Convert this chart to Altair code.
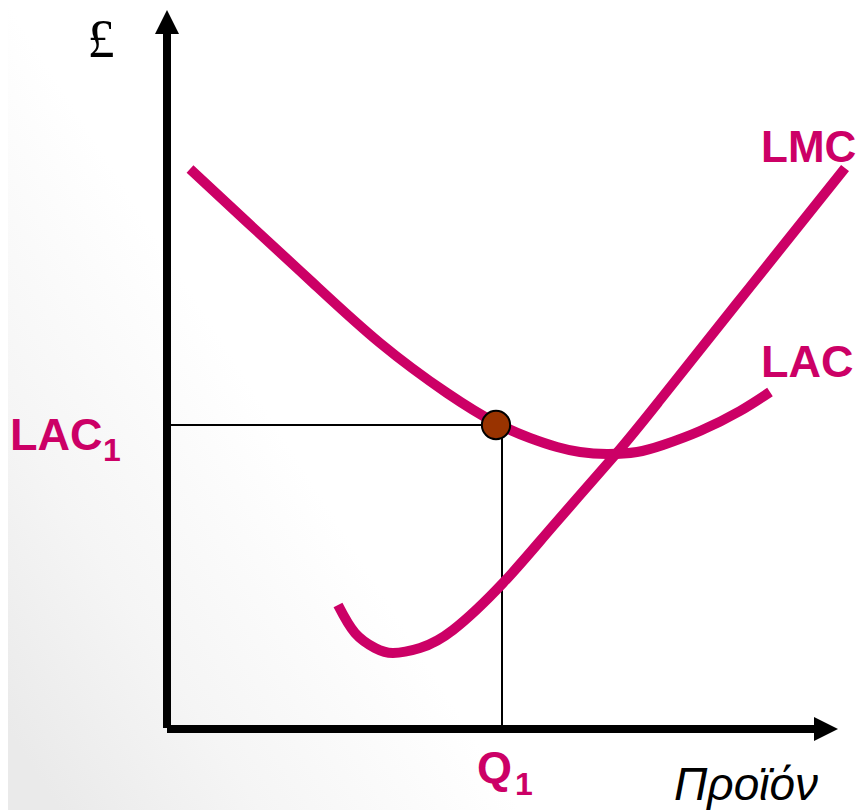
import altair as alt
import pandas as pd

# ---- data (units: quantity q and cost c; origin at axes corner) ----
lac_q = [23, 80, 146, 213, 280, 329, 363, 390, 413, 440, 470, 496, 533, 573, 603]
lac_c = [560, 507, 446, 386, 336, 306, 291, 282, 277, 275, 277, 284, 298, 318, 337]

lmc_q = [171, 188, 208, 226, 253, 286, 336, 386, 448, 493, 583, 678]
lmc_c = [124, 96, 81, 76, 81, 99, 146, 203, 274, 329, 442, 561]

q1 = 335        # Q1 vertical guide
lac1 = 304      # LAC1 cost level
pt_q = 329      # marked point on LAC

x_axis_end = 650
y_axis_end = 700

labels_txt = ["LMC", "LAC"]
labels_q = [594, 594]
labels_c = [567, 352]
labels_size = [44, 45]

W, H = 850, 802
XD = [-159, 691]
YD = [-81, 721]
PINK = "#CC0066"

xs = alt.Scale(domain=XD, nice=False, zero=False)
ys = alt.Scale(domain=YD, nice=False, zero=False)


def X(f="q"):
    return alt.X(f"{f}:Q", scale=xs, axis=None)


def Y(f="c"):
    return alt.Y(f"{f}:Q", scale=ys, axis=None)


bg = alt.Chart(pd.DataFrame({"a": [0]})).mark_rect(
    fill=alt.Gradient(
        gradient="linear",
        x1=0.0, y1=0.9, x2=0.5, y2=0.6,
        stops=[
            alt.GradientStop(offset=0, color="#EAEAEA"),
            alt.GradientStop(offset=0.35, color="#F5F5F5"),
            alt.GradientStop(offset=0.8, color="#FFFFFF"),
            alt.GradientStop(offset=1, color="#FFFFFF"),
        ],
    ),
    strokeWidth=0,
).encode(x=alt.value(0), x2=alt.value(W), y=alt.value(0), y2=alt.value(H))

lac_df = pd.DataFrame({"q": lac_q, "c": lac_c})
lmc_df = pd.DataFrame({"q": lmc_q, "c": lmc_c})

lac_line = alt.Chart(lac_df).mark_line(
    color=PINK, strokeWidth=10, interpolate="natural", strokeCap="butt"
).encode(x=X(), y=Y(), order="q:Q")
lmc_line = alt.Chart(lmc_df).mark_line(
    color=PINK, strokeWidth=10, interpolate="natural", strokeCap="butt"
).encode(x=X(), y=Y(), order="q:Q")

# guide lines
hguide = alt.Chart(pd.DataFrame({"q": [0], "q2": [pt_q], "c": [lac1]})).mark_rule(
    color="black", strokeWidth=2
).encode(x=X(), x2="q2:Q", y=Y())
vguide = alt.Chart(pd.DataFrame({"q": [q1], "c": [0], "c2": [lac1]})).mark_rule(
    color="black", strokeWidth=2
).encode(x=X(), y=Y(), y2="c2:Q")

# axes
yaxis = alt.Chart(pd.DataFrame({"q": [0], "c": [1], "c2": [y_axis_end - 2]})).mark_rule(
    color="black", strokeWidth=8, strokeCap="butt"
).encode(x=X(), y=Y(), y2="c2:Q")
xaxis = alt.Chart(pd.DataFrame({"q": [0], "q2": [x_axis_end], "c": [0]})).mark_rule(
    color="black", strokeWidth=8, strokeCap="butt"
).encode(x=X(), x2="q2:Q", y=Y())

yarrow = alt.Chart(pd.DataFrame({"q": [0], "c": [707]})).mark_point(
    shape="M0,-1L1,1L-1,1Z", size=576, filled=True, fill="black", opacity=1
).encode(x=X(), y=Y())
xarrow = alt.Chart(pd.DataFrame({"q": [659], "c": [0]})).mark_point(
    shape="M1,0L-1,-1L-1,1Z", size=576, filled=True, fill="black", opacity=1
).encode(x=X(), y=Y())

point = alt.Chart(pd.DataFrame({"q": [pt_q], "c": [lac1]})).mark_point(
    shape="circle", size=800, filled=True, fill="#993300", stroke="black",
    strokeWidth=2, opacity=1
).encode(x=X(), y=Y())

curve_labels = alt.Chart(pd.DataFrame({"t": labels_txt, "q": labels_q, "c": labels_c,
                                       "s": labels_size})).mark_text(
    font="Liberation Sans", fontWeight="bold", color=PINK,
    align="left", baseline="alphabetic"
).encode(x=X(), y=Y(), text="t:N", size=alt.Size("s:Q", scale=None, legend=None))


def txt(t, q, c, size, weight="normal", color="black", style="normal", font="Liberation Sans", align="left"):
    return alt.Chart(pd.DataFrame({"t": [t], "q": [q], "c": [c]})).mark_text(
        font=font, fontSize=size, fontWeight=weight, color=color, fontStyle=style,
        align=align, baseline="alphabetic"
    ).encode(x=X(), y=Y(), text="t:N")


pound = txt("£", -66, 672, 54, font="Liberation Serif", align="center")
lac1_main = txt("LAC", -157, 279, 45, weight="bold", color=PINK)
lac1_sub = txt("1", -64, 268, 32, weight="bold", color=PINK)
q_main = txt("Q", 310, -54, 45, weight="bold", color=PINK)
q_sub = txt("1", 348, -66, 32, weight="bold", color=PINK)
output_lbl = txt("Προϊόν", 507, -71, 46, style="italic")

chart = alt.layer(
    bg, hguide, vguide, lmc_line, lac_line, yaxis, xaxis, yarrow, xarrow, point,
    curve_labels, pound, lac1_main, lac1_sub, q_main, q_sub, output_lbl
).properties(
    width=W, height=H, padding=0, autosize=alt.AutoSizeParams(type="none")
).configure_view(strokeWidth=0, fill=None)

chart.save("out.html", embed_options={"renderer": "svg", "actions": False})
